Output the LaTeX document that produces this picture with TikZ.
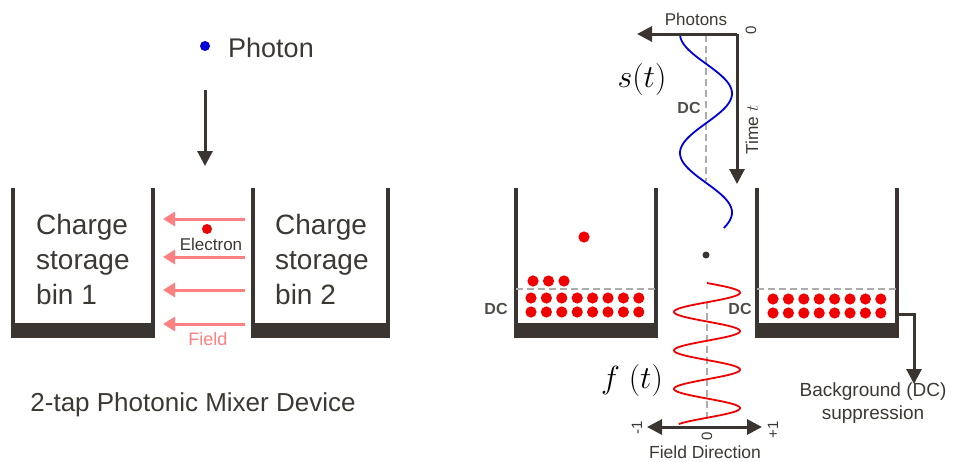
\documentclass[tikz,border=0pt]{standalone}
\usepackage{fontspec}
\setmainfont{Liberation Sans}
\usetikzlibrary{arrows.meta}
\definecolor{wall}{RGB}{58,53,48}
\definecolor{txt}{RGB}{60,56,52}
\definecolor{fieldpink}{RGB}{255,128,128}
\definecolor{dcgray}{RGB}{172,172,172}
\definecolor{ered}{RGB}{240,0,0}
\definecolor{pblue}{RGB}{0,0,215}
\begin{document}
\begin{tikzpicture}[x=1pt,y=-1pt,
  wallline/.style={draw=wall, line width=3.2pt},
  floorbar/.style={fill=wall},
  darrow/.style={draw=wall, line width=3pt, -{Triangle[length=15pt,width=15pt]}},
  dblarrow/.style={draw=wall, line width=3pt, {Triangle[length=15pt,width=15pt]}-{Triangle[length=15pt,width=15pt]}},
  fieldarrow/.style={draw=fieldpink, line width=3pt, -{Triangle[length=12pt,width=14pt]}},
  dcline/.style={draw=dcgray, line width=1.8pt, dash pattern=on 7pt off 4pt},
  reddot/.style={fill=ered},
  bintext/.style={text=txt, inner sep=0pt, align=left, font=\fontsize{28}{35}\selectfont},
  bigtext/.style={text=txt, inner sep=0pt, font=\fontsize{26}{30}\selectfont},
  smalltext/.style={text=txt, inner sep=0pt, font=\fontsize{17}{20}\selectfont},
  ticktext/.style={text=txt, inner sep=0pt, rotate=90, font=\fontsize{15}{18}\selectfont},
  dctext/.style={text=txt!90, inner sep=0pt, font=\bfseries\fontsize{16}{18}\selectfont},
  mathtext/.style={text=black, inner sep=0pt, font=\Huge, scale=1.286},
]
\useasboundingbox (0,0) rectangle (960,461);

% ---------- left: 2-tap PMD ----------
\fill[pblue] (205,46) circle[radius=5pt];
\node[text=txt, inner sep=0pt, anchor=base west, font=\fontsize{27}{30}\selectfont] (photon) at (228,57) {Photon};
\coordinate (pa) at (205,90);
\coordinate (pb) at (205,166);
\draw[darrow] (pa) -- (pb);

\foreach \l/\r in {13/153, 253/388, 516/656, 757/897}{
  \draw[wallline] (\l,188) -- (\l,324);
  \draw[wallline] (\r,188) -- (\r,324);
  \fill[floorbar] (\l-1.6,323) rectangle (\r+1.6,338);
}

\node[bintext, anchor=north west] (bin1) at (36,214.5) {Charge\\storage\\bin 1};
\node[bintext, anchor=north west] (bin2) at (275,214.5) {Charge\\storage\\bin 2};

\foreach \yy [count=\i] in {219,257,290,324}{
  \coordinate (fs\i) at (245,\yy);
  \coordinate (fe\i) at (163,\yy);
  \draw[fieldarrow] (fs\i) -- (fe\i);
}
\fill[ered] (207,229) circle[radius=5pt];
\node[smalltext, anchor=base] (electron) at (211,250) {Electron};
\node[text=fieldpink, inner sep=0pt, anchor=base, font=\fontsize{18}{20}\selectfont] (field) at (208,345) {Field};
\node[bigtext, anchor=base] (pmd) at (193,411) {2-tap Photonic Mixer Device};

% ---------- right: timing ----------
\coordinate (orig) at (737,34);
\coordinate (ptip) at (637,34);
\coordinate (ttip) at (737,184);
\draw[dcline] (706,35) -- (706,181);
\draw[pblue, line width=1.8pt] plot[domain=34:228, samples=120, smooth] ({706 - 26*cos(3.02521*(\x-34))}, \x);
\draw[darrow] (orig) -- (ptip);
\draw[darrow] (orig) -- (ttip);
\node[smalltext, anchor=base] (photons) at (696,25) {Photons};
\node[ticktext] (zero1) at (751,30) {0};
\node[text=txt, inner sep=0pt, rotate=90, font=\LARGE] (time) at (752,130) {Time $t$};
\node[dctext] (dc1) at (689,108) {DC};
\node[mathtext] (st) at (642,79) {$s(t)$};

% dashed DC levels in bins
\draw[dcline] (516,289) -- (656,289);
\draw[dcline] (757,289) -- (897,289);

% charges
\foreach \i in {0,...,7}{
  \fill[reddot] (531+15.4*\i,298) circle[radius=5.6pt];
  \fill[reddot] (531+15.4*\i,312) circle[radius=5.6pt];
  \fill[reddot] (773+15.4*\i,299) circle[radius=5.6pt];
  \fill[reddot] (773+15.4*\i,313) circle[radius=5.6pt];
}
\foreach \i in {0,1,2}{
  \fill[reddot] (533+15.5*\i,281) circle[radius=5.6pt];
}
\fill[reddot] (584,237) circle[radius=5.6pt];
\fill[wall] (706,255) circle[radius=3.5pt];

\node[dctext] (dc2) at (496,309) {DC};
\node[dctext] (dc3) at (740,309) {DC};

% field function f(t)
\draw[dcline] (707,302) -- (707,422);
\draw[ered, line width=1.8pt] plot[domain=283:424, samples=200, smooth] ({707 + 33*sin(9.35065*(\x-283))}, \x);
\coordinate (fl) at (647,427);
\coordinate (fr) at (762,427);
\draw[dblarrow] (fl) -- (fr);
\node[ticktext] (m1) at (637,428) {-1};
\node[ticktext] (z2) at (707,436) {0};
\node[ticktext] (p1) at (773,430) {+1};
\node[smalltext, anchor=base, font=\fontsize{17.5}{20}\selectfont] (fdir) at (705,458) {Field Direction};
\node[mathtext] (ft) at (632,380) {$f\;(t)$};

% background suppression
\coordinate (bgs) at (897,314);
\coordinate (bgc) at (914,314);
\coordinate (bgt) at (914,384);
\draw[darrow] (bgs) -- (bgc) -- (bgt);
\node[smalltext, align=center, anchor=north, font=\fontsize{19}{23}\selectfont] (bg) at (873,383) {Background (DC)\\suppression};
\end{tikzpicture}
\end{document}
